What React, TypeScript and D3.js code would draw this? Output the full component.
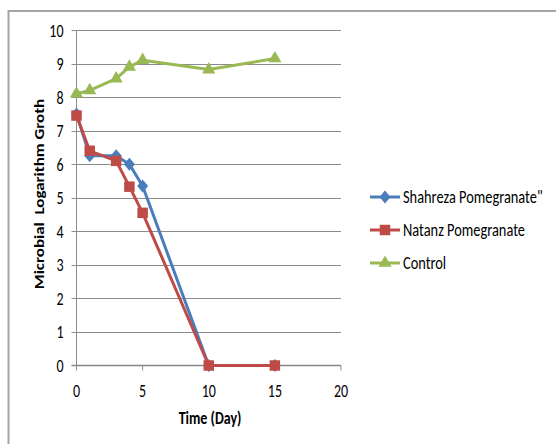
import { useEffect, useRef } from 'react';
import * as d3 from 'd3';

const days = [0, 1, 3, 4, 5, 10, 15];
const shahreza = [7.5, 6.25, 6.25, 6.0, 5.35, 0, 0];
const natanz = [7.45, 6.4, 6.1, 5.33, 4.55, 0, 0];
const control = [8.1, 8.2, 8.55, 8.9, 9.1, 8.82, 9.15];
const seriesNames = ['Shahreza Pomegranate"', 'Natanz Pomegranate', 'Control'];
const xTicks = [0, 5, 10, 15, 20];
const yTicks = [0, 1, 2, 3, 4, 5, 6, 7, 8, 9, 10];

const colors = ['#4a7ebb', '#be4b48', '#98b954'];
const font = "Carlito, 'Liberation Sans Narrow', 'Open Sans', sans-serif";
// the original picture is squeezed horizontally, text included
const squeeze = 0.8;

// excel-like diamond: a bit wider than d3's default one
const excelDiamond = {
  draw(ctx: d3.Path, _size: number) {
    ctx.moveTo(0, -6.5);
    ctx.lineTo(5.5, 0);
    ctx.lineTo(0, 6.5);
    ctx.lineTo(-5.5, 0);
    ctx.closePath();
  },
};
const shapes = [excelDiamond, d3.symbolSquare, d3.symbolTriangle];
const sizes = [80, 110, 75];

export default function App() {
  const svgRef = useRef<SVGSVGElement>(null);

  useEffect(() => {
    if (!svgRef.current) return;
    const svg = d3.select(svgRef.current);
    svg.selectAll('*').remove();

    const x = d3.scaleLinear().domain([0, 20]).range([76.5, 341]);
    const y = d3.scaleLinear().domain([0, 10]).range([365.5, 30]);

    // outer frame
    svg.append('rect')
      .attr('x', 8.5).attr('y', 11)
      .attr('width', 560).attr('height', 450)
      .attr('fill', 'none').attr('stroke', '#a6a6a6').attr('stroke-width', 2);

    // grid lines
    svg.append('g').selectAll('line').data(yTicks.filter((d) => d > 0)).join('line')
      .attr('x1', x(0) - 5).attr('x2', x(20))
      .attr('y1', (d) => Math.round(y(d)) + 0.5).attr('y2', (d) => Math.round(y(d)) + 0.5)
      .attr('stroke', '#8c8c8c').attr('stroke-width', 1);

    // y axis line
    svg.append('line')
      .attr('x1', x(0)).attr('x2', x(0)).attr('y1', y(10)).attr('y2', y(0))
      .attr('stroke', '#8c8c8c');

    // x axis line + tick marks
    svg.append('line')
      .attr('x1', x(0) - 5).attr('x2', x(20)).attr('y1', y(0)).attr('y2', y(0))
      .attr('stroke', '#868686').attr('stroke-width', 1.7);
    svg.append('g').selectAll('line').data(xTicks).join('line')
      .attr('x1', (d) => x(d)).attr('x2', (d) => x(d))
      .attr('y1', y(0)).attr('y2', y(0) + 5)
      .attr('stroke', '#8c8c8c');

    svg.append('g').selectAll('text').data(yTicks).join('text')
      .attr('transform', (d) => `translate(${x(0) - 13},${y(d) + 6.5}) scale(${squeeze},1)`)
      .attr('text-anchor', 'end')
      .attr('font-family', font).attr('font-size', 17.5).attr('fill', '#000')
      .text((d) => d);

    svg.append('g').selectAll('text').data(xTicks).join('text')
      .attr('transform', (d) => `translate(${x(d)},${y(0) + 31}) scale(${squeeze},1)`)
      .attr('text-anchor', 'middle')
      .attr('font-family', font).attr('font-size', 17.5).attr('fill', '#000')
      .text((d) => d);

    // axis titles
    svg.append('text')
      .attr('transform', `translate(210,424) scale(${squeeze},1)`)
      .attr('text-anchor', 'middle')
      .attr('font-family', font).attr('font-size', 17.5).attr('font-weight', 'bold')
      .text('Time (Day)');

    svg.append('text')
      .attr('transform', `translate(44,194) scale(${squeeze},1) rotate(-90)`)
      .attr('text-anchor', 'middle')
      .attr('font-family', font).attr('font-size', 17).attr('font-weight', 'bold')
      .style('white-space', 'pre')
      .text('Microbial  Logarithm Groth');

    const allSeries = [shahreza, natanz, control];
    const line = d3.line<number>().x((_, i) => x(days[i])).y((d) => y(d));

    allSeries.forEach((vals, s) => {
      svg.append('path')
        .datum(vals)
        .attr('fill', 'none').attr('stroke', colors[s]).attr('stroke-width', 3)
        .attr('stroke-linejoin', 'round')
        .attr('d', line);
      svg.append('g').selectAll('path').data(vals).join('path')
        .attr('transform', (d, i) => `translate(${x(days[i])},${y(d)})`)
        .attr('d', d3.symbol().type(shapes[s] as d3.SymbolType).size(sizes[s])())
        .attr('fill', colors[s]);
    });

    // legend
    const legend = svg.append('g');
    seriesNames.forEach((name, i) => {
      const ly = 197 + i * 33;
      legend.append('line')
        .attr('x1', 370).attr('x2', 400).attr('y1', ly).attr('y2', ly)
        .attr('stroke', colors[i]).attr('stroke-width', 3);
      legend.append('path')
        .attr('transform', `translate(385,${ly})`)
        .attr('d', d3.symbol().type(shapes[i] as d3.SymbolType).size(sizes[i])())
        .attr('fill', colors[i]);
      legend.append('text')
        .attr('transform', `translate(403,${ly + 6}) scale(${squeeze},1)`)
        .attr('font-family', font).attr('font-size', 18)
        .text(name);
    });
  }, []);

  return (
    <svg
      ref={svgRef}
      width={556}
      height={444}
      style={{ position: 'absolute', left: 0, top: 0, background: '#fff' }}
    />
  );
}
